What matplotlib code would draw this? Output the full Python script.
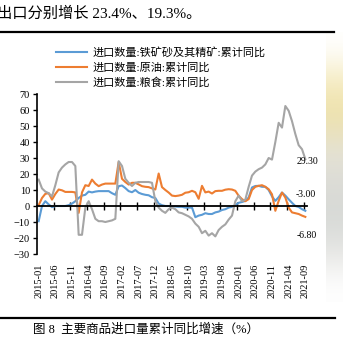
import numpy as np
import pandas as pd
import matplotlib
matplotlib.use('Agg')
import matplotlib.pyplot as plt
from matplotlib.lines import Line2D

# monthly categories 2015-01 .. 2021-09
months = pd.period_range('2015-01', '2021-09', freq='M').strftime('%Y-%m').tolist()

# 累计同比 (%)
iron_ore = [-9.5, 0, 3, 1, -0.7, 0, 0, 0, 0, 0.5,
            1.5, 3, 5, 6.5, 7, 9, 8.5, 9, 9.3, 9.3,
            9.3, 9.3, 8, 7, 12.4, 12.8, 11.2, 9.3, 8.6, 10,
            8.3, 7.5, 7, 6.7, 5.5, 5, 1.5, 0.5, 0, 0,
            -0.3, -0.3, -0.5, -0.5, -1, -1, -1, -7, -6, -5.5,
            -4.5, -5, -5, -4, -3.5, -2.5, -2, -1, -0.5, 0.5,
            2, 2.5, 3.2, 5.3, 11.6, 12.5, 12.6, 12, 12, 10,
            6, 3.2, 5.5, 8.4, 6.5, 4.2, 2, 0, -0.6, -2,
            -3.0]
crude_oil = [0.5, 5, 7.6, 8, 4, 7.5, 10.3, 9.8, 8.8, 8.8,
             8.8, 8.5, -4.3, 8.5, 13, 12.5, 16.5, 14, 12.4, 13.4,
             14, 14, 14, 14, 27.5, 17, 15, 13.4, 14.5, 14.5,
             13.5, 12.4, 12, 11.8, 11, 10.3, 20.3, 11.8, 10, 8.4,
             6.5, 6.2, 6.5, 7, 8.3, 8.6, 9.5, 8.6, 4.5, 12.6,
             8.5, 9, 7.8, 9.3, 9.5, 9.5, 10.2, 10.5, 10.3, 9.5,
             6.4, 4.3, 3, 4.3, 10, 12, 12.6, 13, 12, 10.5,
             7.3, -3, 3.2, 8.4, 5.3, -1, -4, -4.5, -5, -6,
             -6.8]
grain = [16.5, 11, 9, 8, 6, 13, 21, 24, 26, 27.5,
         27.5, 25, -18, -18, -1, 3, -2, -8, -9.5, -9.5,
         -10, -9.5, -9, -8, 28, 25, 17, 14.5, 12.5, 14.5,
         15, 15, 15, 15, 14.5, 3, -1, -3, -4.3, -2,
         -1, -2, -4, -4.5, -5.5, -6.5, -8, -11, -13, -17,
         -15.5, -18.5, -17, -19, -15, -13, -11.5, -8.5, -6, 3,
         6.5, 3, 4, 12, 19, 21.5, 23, 24, 26, 30,
         29, 40, 52, 49, 62.5, 59.5, 53, 45, 38, 35.5,
         29.3]

series_names = ['进口数量:铁矿砂及其精矿:累计同比',
                '进口数量:原油:累计同比',
                '进口数量:粮食:累计同比']
colors = ['#5B9BD5', '#ED7D31', '#A5A5A5']

serif_cjk = ['Liberation Serif', 'Noto Sans CJK SC']
plt.rcParams['font.family'] = serif_cjk

W, H = 343, 342
fig = plt.figure(figsize=(W / 100, H / 100), dpi=100)
fig.patch.set_facecolor('white')

# blurred photo strip on the right page edge
strip = fig.add_axes([326 / W, 40 / H, 17 / W, 270 / H])
strip_cols = np.array([[1.0, 1.0, 1.0], [0.96, 0.92, 0.75], [0.93, 0.88, 0.66],
                       [0.90, 0.89, 0.84], [0.86, 0.86, 0.84], [0.84, 0.85, 0.84],
                       [0.90, 0.90, 0.89], [1.0, 1.0, 1.0]])
strip.imshow(strip_cols[:, None, :].repeat(2, axis=1), aspect='auto',
             interpolation='bicubic')
strip.axis('off')

ax = fig.add_axes([37 / W, (H - 254) / H, 270 / W, 160 / H])
x = np.arange(len(months))
for vals, name, c in zip([iron_ore, crude_oil, grain], series_names, colors):
    ax.plot(x, vals, color=c, lw=1.5, label=name)

ax.set_xlim(-0.5, len(months) - 0.5)
ax.set_ylim(-30, 70)
ax.set_yticks(np.arange(-30, 71, 10))
ax.tick_params(axis='y', direction='out', length=3, width=1, labelsize=7.5, pad=2)

for s in ['top', 'right']:
    ax.spines[s].set_visible(False)
ax.spines['left'].set_linewidth(1.2)
ax.spines['bottom'].set_position(('data', 0))
ax.spines['bottom'].set_linewidth(1.3)
ax.set_xticks(np.arange(4.5, len(months), 5))
ax.tick_params(axis='x', direction='inout', length=6, width=1, labelbottom=False)

# category labels along the bottom edge
sec = ax.secondary_xaxis(0)
label_pos = x[::5]
sec.set_xticks(label_pos, [months[i] for i in label_pos])
sec.spines['bottom'].set_visible(False)
sec.tick_params(length=0, pad=7, labelsize=7.5, labelrotation=90)

# end-of-series values
ax.annotate(f'{grain[-1]:.2f}', xy=(x[-1], grain[-1]), xytext=(1.5, -1.8),
            textcoords='offset points', ha='center', va='center', fontsize=7)
ax.annotate(f'{iron_ore[-1]:.2f}', xy=(x[-1], iron_ore[-1]), xytext=(0.5, 11.5),
            textcoords='offset points', ha='center', va='center', fontsize=7)
ax.annotate(f'{crude_oil[-1]:.2f}', xy=(x[-1], crude_oil[-1]), xytext=(1, -13.4),
            textcoords='offset points', ha='center', va='center', fontsize=7)

fig.legend(loc='upper left', bbox_to_anchor=(56 / W, 1 - 47 / H), frameon=False,
           fontsize=8, handlelength=2.8, handletextpad=0.45, labelspacing=0.42,
           borderpad=0, borderaxespad=0)

# page text and rules
fig.text(-3 / W, 1 - 14 / H, '出口分别增长 23.4%、19.3%。', fontsize=11,
         va='center', ha='left')
fig.add_artist(Line2D([0, 334 / W], [1 - 32 / H] * 2, color='black', lw=1.6,
                      transform=fig.transFigure))
fig.add_artist(Line2D([0, 335 / W], [1 - 318 / H] * 2, color='black', lw=1.6,
                      transform=fig.transFigure))
fig.text(33 / W, 1 - 330 / H, '图 8  主要商品进口量累计同比增速（%）', fontsize=9,
         va='center', ha='left')

fig.savefig('out.png', dpi=100)
